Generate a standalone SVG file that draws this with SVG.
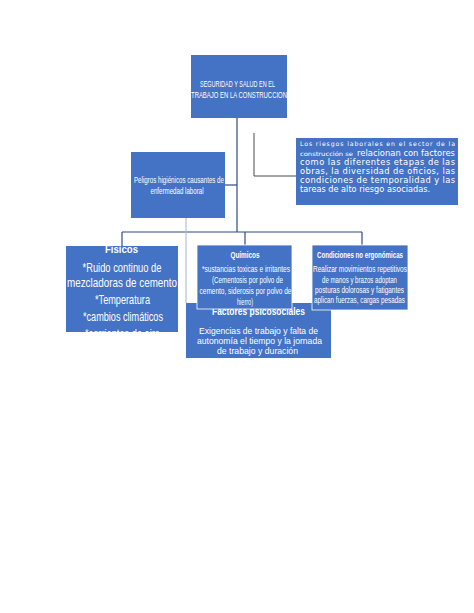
<svg xmlns="http://www.w3.org/2000/svg" width="474" height="613" viewBox="0 0 474 613">
<style>
.box{fill:#4472C4}
.wbox{fill:#4472C4;stroke:#ffffff;stroke-width:0.8}
.t{fill:#ffffff;font-family:"Liberation Sans",Arial,sans-serif;text-anchor:middle}
.b{font-weight:bold}
.v{fill:#ffffff;font-family:"DejaVu Sans",Verdana,sans-serif}
.c{fill:none;stroke:#2F4A7F;stroke-width:1.2}
.g{fill:none;stroke:#4a4a4a;stroke-width:1}
.l{fill:none;stroke:#A6B4CC;stroke-width:1}
</style>
<defs>
<clipPath id="clipF"><rect x="66" y="246" width="112" height="86"/></clipPath>
</defs>
<rect width="474" height="613" fill="#ffffff"/>
<g id="connectors">
<path class="c" d="M237 118V232"/>
<path class="c" d="M122 232H362"/>
<path class="c" d="M122 232V246"/>
<path class="c" d="M245 232V245"/>
<path class="c" d="M362 232V245"/>
<path class="c" d="M225 185H237"/>
<path class="g" d="M254 133V176H296"/>
<path class="l" d="M186 218V303"/>
</g>
<g id="seguridad">
<rect class="box" x="191" y="55" width="96" height="63"/>
<text class="t" x="237.5" y="86.5" font-size="9" textLength="75" lengthAdjust="spacingAndGlyphs">SEGURIDAD Y SALUD EN EL</text>
<text class="t" x="239" y="97.5" font-size="9" textLength="96" lengthAdjust="spacingAndGlyphs">TRABAJO EN LA CONSTRUCCION</text>
</g>
<g id="riesgos">
<rect class="box" x="296" y="138" width="162" height="67"/>
<text class="v" x="300" y="146" font-size="6.2" textLength="155" lengthAdjust="spacing">Los riesgos laborales en el sector de la</text>
<text class="v" x="300" y="156" font-size="6" textLength="53" lengthAdjust="spacingAndGlyphs">construcción se</text>
<text class="v" x="357" y="156" font-size="8.3" textLength="98" lengthAdjust="spacingAndGlyphs">relacionan con factores</text>
<text class="v" x="300" y="165" font-size="8.3" textLength="155" lengthAdjust="spacing">como las diferentes etapas de las</text>
<text class="v" x="300" y="174" font-size="8.3" textLength="155" lengthAdjust="spacing">obras, la diversidad de oficios, las</text>
<text class="v" x="300" y="182.5" font-size="8.3" textLength="155" lengthAdjust="spacing">condiciones de temporalidad y las</text>
<text class="v" x="300" y="191.5" font-size="8.3" textLength="130" lengthAdjust="spacingAndGlyphs">tareas de alto riesgo asociadas.</text>
</g>
<g id="peligros">
<rect class="box" x="131" y="152" width="94" height="66"/>
<text class="t" x="179" y="183" font-size="9.5" textLength="90" lengthAdjust="spacingAndGlyphs">Peligros higiénicos causantes de</text>
<text class="t" x="177" y="194" font-size="9.5" textLength="53" lengthAdjust="spacingAndGlyphs">enfermedad laboral</text>
</g>
<g id="fisicos">
<rect class="box" x="66" y="246" width="112" height="86"/>
<g clip-path="url(#clipF)">
<text class="t b" x="121.5" y="253" font-size="11.5" textLength="33" lengthAdjust="spacingAndGlyphs">Fisicos</text>
<text class="t" x="122" y="271.5" font-size="13" textLength="79" lengthAdjust="spacingAndGlyphs">*Ruido continuo de</text>
<text class="t" x="122" y="286.5" font-size="13" textLength="110" lengthAdjust="spacingAndGlyphs">mezcladoras de cemento</text>
<text class="t" x="122.5" y="303.5" font-size="13" textLength="55" lengthAdjust="spacingAndGlyphs">*Temperatura</text>
<text class="t" x="123" y="320.5" font-size="13" textLength="80" lengthAdjust="spacingAndGlyphs">*cambios climáticos</text>
<text class="t" x="122.5" y="338" font-size="13" textLength="75" lengthAdjust="spacingAndGlyphs">*corrientes de aire</text>
</g>
</g>
<g id="psicosociales">
<rect class="box" x="186" y="303" width="145" height="55"/>
<text class="t b" x="258.5" y="314.5" font-size="10" textLength="93" lengthAdjust="spacingAndGlyphs">Factores psicosociales</text>
<text class="t" x="258.5" y="333.5" font-size="9.8" textLength="119" lengthAdjust="spacingAndGlyphs">Exigencias de trabajo y falta de</text>
<text class="t" x="259.5" y="343.5" font-size="9.8" textLength="125" lengthAdjust="spacingAndGlyphs">autonomía el tiempo y la jornada</text>
<text class="t" x="257.5" y="353.5" font-size="9.8" textLength="81" lengthAdjust="spacingAndGlyphs">de trabajo y duración</text>
</g>
<g id="quimicos">
<rect class="wbox" x="197" y="245" width="95" height="64"/>
<text class="t b" x="245" y="258" font-size="9" textLength="29" lengthAdjust="spacingAndGlyphs">Químicos</text>
<text class="t" x="246" y="272" font-size="9" textLength="88" lengthAdjust="spacingAndGlyphs">*sustancias toxicas e irritantes</text>
<text class="t" x="247.5" y="283" font-size="9" textLength="71" lengthAdjust="spacingAndGlyphs">(Cementosis por polvo de</text>
<text class="t" x="245.5" y="294" font-size="9" textLength="92" lengthAdjust="spacingAndGlyphs">cemento, siderosis por polvo de</text>
<text class="t" x="245" y="304.5" font-size="9" textLength="16" lengthAdjust="spacingAndGlyphs">hierro)</text>
</g>
<g id="ergonomicas">
<rect class="wbox" x="312" y="245" width="96" height="65"/>
<text class="t b" x="360" y="258" font-size="9" textLength="86" lengthAdjust="spacingAndGlyphs">Condiciones no ergonómicas</text>
<text class="t" x="360" y="272" font-size="9" textLength="94" lengthAdjust="spacingAndGlyphs">Realizar movimientos repetitivos</text>
<text class="t" x="359.5" y="283" font-size="9" textLength="75" lengthAdjust="spacingAndGlyphs">de manos y brazos adoptan</text>
<text class="t" x="359.5" y="293" font-size="9" textLength="89" lengthAdjust="spacingAndGlyphs">posturas dolorosas y fatigantes</text>
<text class="t" x="359.5" y="303" font-size="9" textLength="91" lengthAdjust="spacingAndGlyphs">aplican fuerzas, cargas pesadas</text>
</g>
</svg>
